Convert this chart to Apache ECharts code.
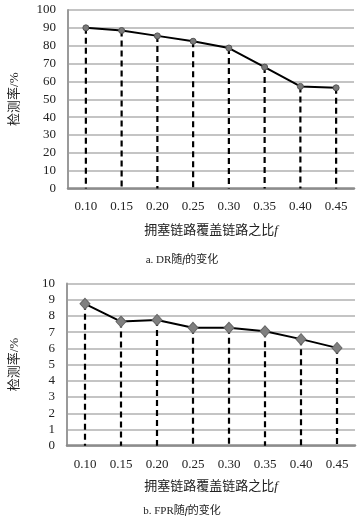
<!DOCTYPE html>
<html><head><meta charset="utf-8">
<script src="https://cdn.jsdelivr.net/npm/echarts@6/dist/echarts.min.js"></script>
<style>html,body{margin:0;padding:0;background:#fff}#c{width:364px;height:527px}</style>
</head><body><div id="c"></div>
<script>
var categories = ['0.10','0.15','0.20','0.25','0.30','0.35','0.40','0.45'];
var drValues = [90, 88.5, 85.5, 82.5, 78.7, 68, 57.2, 56.4];
var fprValues = [8.75, 7.65, 7.75, 7.27, 7.27, 7.05, 6.57, 6.03];
var drTicks = {min:0, max:100, interval:10};
var fprTicks = {min:0, max:10, interval:1};
var xName = '拥塞链路覆盖链路之比{i|f}';
var yName = '检测率/%';
var captionA = 'a. DR随{i|f}的变化';
var captionB = 'b. FPR随{i|f}的变化';

var FONT = "'Liberation Serif','Noto Sans CJK SC',serif";
var chart = echarts.init(document.getElementById('c'));

function xAxis(gi, gap){
  return {type:'category', gridIndex:gi, data:categories, boundaryGap:true,
    axisLine:{lineStyle:{color:'#8c8c8c', width:2.5}},
    axisTick:{show:false},
    axisLabel:{color:'#222', fontSize:13, fontFamily:FONT, margin:12},
    name:xName, nameLocation:'middle', nameGap:gap,
    nameTextStyle:{color:'#222', fontSize:13, fontFamily:FONT,
      rich:{i:{fontStyle:'italic', fontSize:13, fontFamily:FONT, color:'#222'}}}};
}
function yAxis(gi, t, gap){
  return {type:'value', gridIndex:gi, min:t.min, max:t.max, interval:t.interval,
    axisLine:{show:true, lineStyle:{color:'#9a9a9a', width:2}},
    axisTick:{show:false},
    splitLine:{lineStyle:{color:'#c4c4c4', width:2}},
    axisLabel:{color:'#222', fontSize:13, fontFamily:FONT, margin:12},
    name:yName, nameLocation:'middle', nameGap:gap, nameRotate:90,
    nameTextStyle:{color:'#222', fontSize:13, fontFamily:FONT}};
}
function dropSeries(idx, vals){
  return {type:'custom', xAxisIndex:idx, yAxisIndex:idx, z:1,
    data:vals.map(function(v,i){return [i,v];}),
    renderItem:function(params, api){
      var p1 = api.coord([api.value(0), api.value(1)]);
      var p2 = api.coord([api.value(0), 0]);
      return {type:'line', shape:{x1:p1[0],y1:p1[1],x2:p2[0],y2:p2[1]},
        style:{stroke:'#000', lineWidth:2.2, lineDash:[6,4]}};
    }};
}
var capStyle = {fontSize:11, fontWeight:'normal', color:'#222', fontFamily:FONT,
  rich:{i:{fontStyle:'italic', fontSize:11, fontFamily:FONT, color:'#222'}}};
chart.setOption({
  animation:false,
  title:[
    {text:captionA, left:'center', top:250, textStyle:capStyle},
    {text:captionB, left:'center', top:501, textStyle:capStyle}
  ],
  grid:[
    {left:62, right:10, top:10, bottom:338.5},
    {left:61, right:9, top:283.5, bottom:81.3}
  ],
  xAxis:[xAxis(0, 36), xAxis(1, 34)],
  yAxis:[yAxis(0, drTicks, 47), yAxis(1, fprTicks, 46)],
  series:[
    dropSeries(0, drValues),
    {type:'line', xAxisIndex:0, yAxisIndex:0, data:drValues, z:3,
      symbol:'circle', symbolSize:6, lineStyle:{color:'#000', width:2},
      itemStyle:{color:'#7a7a7a', borderColor:'#555', borderWidth:1}},
    dropSeries(1, fprValues),
    {type:'line', xAxisIndex:1, yAxisIndex:1, data:fprValues, z:3,
      symbol:'diamond', symbolSize:[10,11], lineStyle:{color:'#000', width:2},
      itemStyle:{color:'#808080', borderColor:'#666', borderWidth:1}}
  ]
});
</script></body></html>
